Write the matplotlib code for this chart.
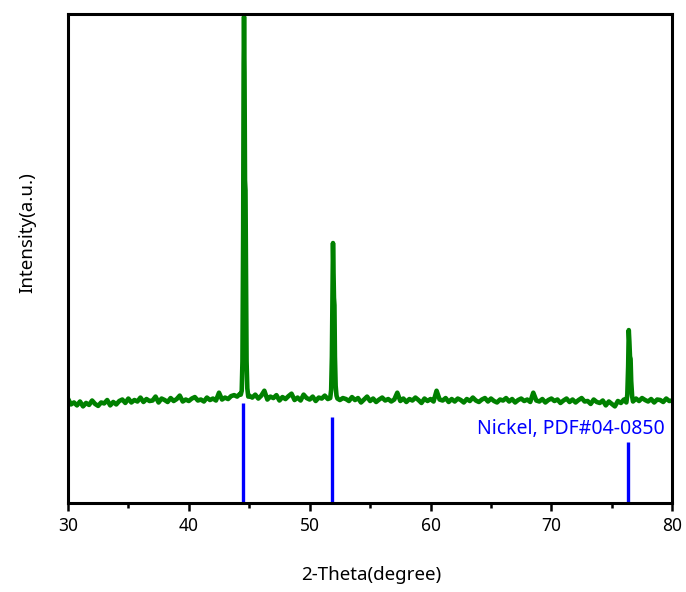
import numpy as np
import matplotlib
matplotlib.use('Agg')
import matplotlib.pyplot as plt

plt.rcParams['font.family'] = ['Noto Sans', 'DejaVu Sans']

# measured scan, 0.25 deg step from 30 to 80 (baseline part)
scan_start = 30.0
scan_step = 0.25
baseline = [
    214, 202, 206, 200,  # 30
    208, 198, 205, 201,  # 31
    210, 203, 199, 206,  # 32
    204, 211, 200, 207,  # 33
    202, 209, 212, 205,  # 34
    214, 206, 211, 208,  # 35
    216, 207, 213, 209,  # 36
    210, 218, 206, 214,  # 37
    211, 207, 215, 209,  # 38
    213, 220, 208, 212,  # 39
    209, 214, 217, 210,  # 40
    212, 208, 216, 211,  # 41
    214, 210, 226, 212,  # 42
    216, 213, 219, 221,  # 43
    218, 224, 220, 220,  # 44
    220, 216, 222, 214,  # 45
    220, 230, 212, 218,  # 46
    215, 221, 210, 217,  # 47
    213, 219, 224, 211,  # 48
    216, 210, 222, 215,  # 49
    212, 218, 209, 216,  # 50
    214, 220, 213, 215,  # 51
    215, 218, 211, 215,  # 52
    213, 209, 217, 211,  # 53
    215, 206, 212, 218,  # 54
    209, 214, 207, 212,  # 55
    216, 210, 213, 208,  # 56
    212, 226, 209, 214,  # 57
    207, 213, 210, 216,  # 58
    211, 205, 214, 209,  # 59
    213, 208, 230, 212,  # 60
    210, 215, 207, 213,  # 61
    208, 214, 211, 206,  # 62
    213, 209, 216, 210,  # 63
    207, 212, 215, 208,  # 64
    214, 209, 206, 212,  # 65
    210, 215, 208, 213,  # 66
    206, 211, 214, 209,  # 67
    212, 207, 226, 210,  # 68
    208, 213, 206, 211,  # 69
    214, 209, 212, 205,  # 70
    210, 214, 207, 212,  # 71
    206, 211, 215, 208,  # 72
    209, 203, 212, 207,  # 73
    205, 210, 200, 208,  # 74
    203, 198, 209, 205,  # 75
    212, 210, 210, 210,  # 76
    214, 209, 215, 211,  # 77
    208, 213, 206, 212,  # 78
    211, 207, 214, 209,  # 79
    210,                 # 80
]

# finer points through the three peaks
peak1_x = [44.30, 44.38, 44.44, 44.50, 44.54, 44.57, 44.61, 44.65, 44.69, 44.73, 44.78, 44.84, 44.92]
peak1_y = [222, 230, 290, 560, 900, 995, 880, 660, 640, 470, 290, 235, 218]
peak2_x = [51.70, 51.78, 51.84, 51.89, 51.93, 51.97, 52.01, 52.05, 52.09, 52.15, 52.22, 52.30]
peak2_y = [215, 232, 300, 430, 532, 480, 420, 405, 300, 240, 220, 214]
peak3_x = [76.20, 76.28, 76.35, 76.40, 76.45, 76.50, 76.55, 76.60, 76.68, 76.75]
peak3_y = [206, 222, 280, 354, 330, 300, 295, 250, 218, 208]

# Ni standard pattern, PDF#04-0850
ref_pos = [44.507, 51.846, 76.370]
ref_int = [204, 176, 125]

grid = scan_start + scan_step * np.arange(len(baseline))
base = np.array(baseline, dtype=float)
keep = ~(((grid > 44.25) & (grid < 45.0)) | ((grid > 51.6) & (grid < 52.35)) |
         ((grid > 76.1) & (grid < 76.8)))
tt = np.concatenate([grid[keep], peak1_x, peak2_x, peak3_x])
inten = np.concatenate([base[keep], peak1_y, peak2_y, peak3_y])
order = np.argsort(tt)
tt, inten = tt[order], inten[order]

fig = plt.figure(figsize=(6.86, 5.92), dpi=100)
ax = fig.add_axes([0.099, 0.150, 0.881, 0.826])

ax.plot(tt, inten, color='#008000', linewidth=3.3, solid_joinstyle='round')
ax.vlines(ref_pos, 0, ref_int, color='#0000ff', linewidth=2.4)

ax.text(79.34, 141, 'Nickel, PDF#04-0850', color='#0000ff', fontsize=14,
        ha='right', va='baseline')

ax.set_xlim(30, 80)
ax.set_ylim(0, 1000)
ax.set_xticks([30, 40, 50, 60, 70, 80])
ax.set_xticks([35, 45, 55, 65, 75], minor=True)
ax.set_yticks([])
ax.tick_params(axis='x', which='major', direction='out', length=6, width=1.8,
               labelsize=12.5, pad=4)
ax.tick_params(axis='x', which='minor', direction='out', length=3.5, width=1.8)
for s in ax.spines.values():
    s.set_linewidth(2.2)

ax.set_xlabel('2-Theta(degree)', fontsize=13.5)
ax.set_ylabel('Intensity(a.u.)', fontsize=13.5)
ax.xaxis.set_label_coords(0.502, -0.128)
ax.yaxis.set_label_coords(-0.052, 0.554)

fig.savefig('out.png', dpi=100)
